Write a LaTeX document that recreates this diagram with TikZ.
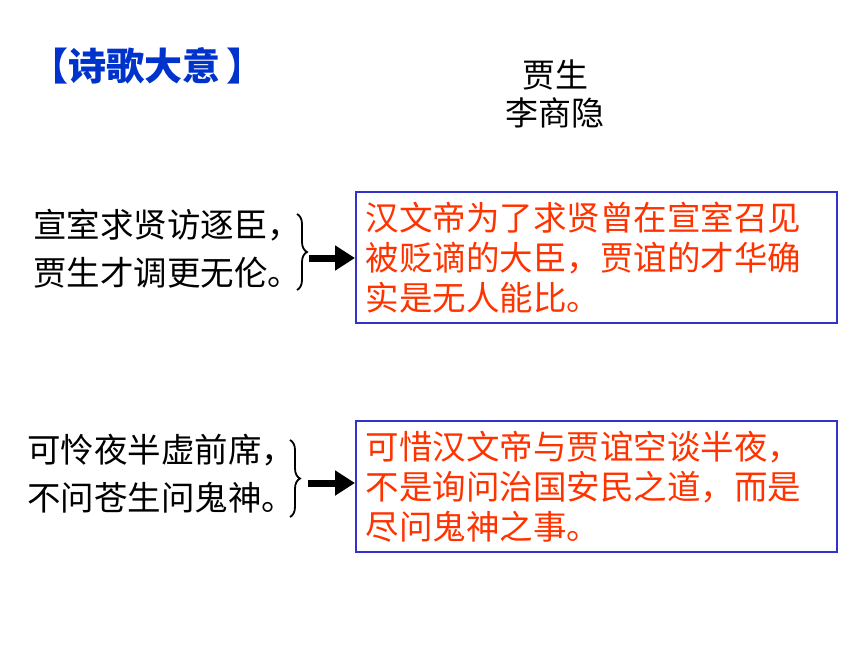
\documentclass[tikz,border=0pt]{standalone}
\usepackage{fontspec}
\setmainfont{Noto Sans CJK SC}
\usetikzlibrary{arrows.meta,decorations.pathreplacing}
\definecolor{titleblue}{RGB}{0,51,204}
\definecolor{boxblue}{RGB}{51,51,204}
\definecolor{transred}{RGB}{255,51,0}
\tikzset{
  poem/.style={anchor=west, inner sep=0pt, align=left, font=\fontsize{33.5}{48}\selectfont},
  trans/.style={draw=boxblue, line width=1.5pt, text=transred, inner xsep=10pt, inner ysep=0pt,
    align=left, text width=461pt, minimum width=481pt, minimum height=131pt,
    anchor=north west, font=\fontsize{33.5}{40}\selectfont},
  bracepath/.style={decorate, decoration={brace, amplitude=10pt}, line width=1.8pt},
  fatarrow/.style={line width=7pt, -{Triangle[length=20pt, width=24pt]}}
}
\begin{document}
\begin{tikzpicture}[x=1pt, y=-1pt]
\useasboundingbox (0, 0) rectangle (860, 645);

\node [anchor=west, inner sep=0pt, text=titleblue, font=\fontsize{38}{38}\selectfont\bfseries] (title) at (30, 66) {【诗歌大意\,】};
\node [align=center, inner sep=0pt, font=\fontsize{33}{38}\selectfont] (poet) at (555, 94) {贾生\\李商隐};

\node [poem] (poem1) at (33, 249) {宣室求贤访逐臣，\\贾生才调更无伦。};
\node [trans] (trans1) at (355, 191) {汉文帝为了求贤曾在宣室召见\\被贬谪的大臣，贾谊的才华确\\实是无人能比。};
\coordinate (b1top) at (297, 214);
\coordinate (b1bot) at (297, 290);
\coordinate (b1tip) at (309, 258);
\draw [bracepath] (b1top) -- (b1bot);
\draw [fatarrow] (b1tip) -- (b1tip -| trans1.west);

\node [poem] (poem2) at (27, 474) {可怜夜半虚前席，\\不问苍生问鬼神。};
\node [trans] (trans2) at (355, 420) {可惜汉文帝与贾谊空谈半夜，\\不是询问治国安民之道，而是\\尽问鬼神之事。};
\coordinate (b2top) at (290, 440);
\coordinate (b2bot) at (290, 517);
\coordinate (b2tip) at (308, 483);
\draw [bracepath] (b2top) -- (b2bot);
\draw [fatarrow] (b2tip) -- (b2tip -| trans2.west);

\end{tikzpicture}
\end{document}
